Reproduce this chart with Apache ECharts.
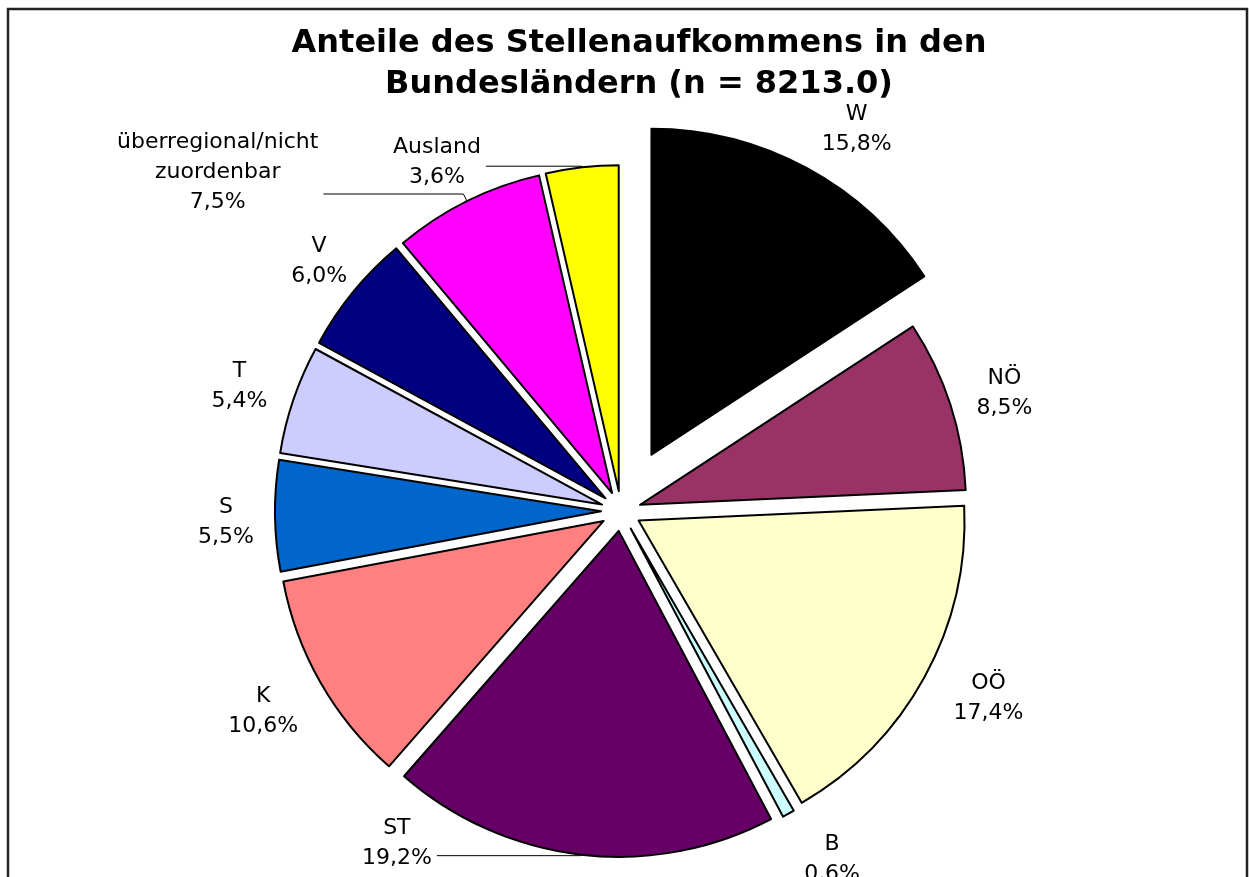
<!DOCTYPE html>
<html><head><meta charset="utf-8">
<script src="https://cdn.jsdelivr.net/npm/echarts@6/dist/echarts.min.js"></script>
<style>html,body{margin:0;padding:0;background:#fff}#c{width:1250px;height:877px}</style>
</head><body><div id="c"></div>
<script>
// ---- data ----
const categories = ['W', 'NÖ', 'OÖ', 'B', 'ST', 'K', 'S', 'T', 'V', 'überregional/nicht\nzuordenbar', 'Ausland'];
const shares = [15.8, 8.5, 17.4, 0.6, 19.2, 10.6, 5.5, 5.4, 6.0, 7.5, 3.6];
const titleLines = ['Anteile des Stellenaufkommens in den', 'Bundesländern (n = 8213.0)'];
const pulledOut = ['W'];
const withLeader = ['ST', 'überregional/nicht\nzuordenbar', 'Ausland'];

// ---- styles ----
const colors = ['#000000', '#993366', '#FFFFCC', '#CCFFFF', '#660066', '#FF8080', '#0066CC', '#CCCCFF', '#000080', '#FF00FF', '#FFFF00'];
const FONT = 'DejaVu Sans';
const leaderStyle = {
  'ST': { length: 1, length2: 144, pad: [0, 0, 24, 0] },
  'überregional/nicht\nzuordenbar': { length: 8, length2: 140, pad: [0, 0, 44, 0] },
  'Ausland': { length: 1, length2: 96, pad: [0, 0, 8, 0] }
};
const labelNudge = { 'W': [44, -27], 'OÖ': [14, -6], 'B': [16, -4], 'S': [8, 6], 'K': [-8, 0], 'NÖ': [0, 6], 'T': [0, 5], 'V': [10, 5] };
const CENTER = [621, 511];
const R = 326;

const fmt = v => v.toFixed(1).replace('.', ',') + '%';
const labelText = (name, v) => name.split('\n').map(l => '{c|' + l + '}').join('\n') + '\n{c|' + fmt(v) + '}';
const rich = { c: { align: 'center', fontFamily: FONT, fontSize: 22, lineHeight: 30, color: '#000' } };
const hidden = { color: 'rgba(0,0,0,0)', borderWidth: 0 };
const visible = i => ({ color: colors[i], borderColor: '#000', borderWidth: 2, borderJoin: 'round' });

const common = {
  type: 'pie', center: CENTER, startAngle: 90, clockwise: true,
  avoidLabelOverlap: false, selectedMode: 'multiple', animation: false,
  labelLayout: { hideOverlap: false, moveOverlap: null },
  emphasis: { disabled: true }, silent: true
};

const seriesPulled = Object.assign({}, common, {
  radius: R, selectedOffset: 64,
  data: categories.map((n, i) => {
    const on = pulledOut.includes(n);
    return { name: n, value: shares[i], selected: on, itemStyle: on ? visible(i) : hidden,
      label: { show: false }, labelLine: { show: false } };
  })
});

const seriesMain = Object.assign({}, common, {
  radius: R, selectedOffset: 20,
  data: categories.map((n, i) => {
    const on = !pulledOut.includes(n);
    const lead = withLeader.includes(n);
    const ls = leaderStyle[n] || {};
    return {
      name: n, value: shares[i], selected: on, itemStyle: on ? visible(i) : hidden,
      label: lead ? { show: true, position: 'outside', distanceToLabelLine: 5, padding: ls.pad,
        formatter: p => labelText(p.name, p.value), rich: rich } : { show: false },
      labelLine: lead ? { show: true, smooth: false, length: ls.length, length2: ls.length2,
        lineStyle: { color: '#000', width: 1 } } : { show: false }
    };
  })
});

const seriesLabels = Object.assign({}, common, {
  radius: [390, 410],
  data: categories.map((n, i) => {
    const lead = withLeader.includes(n);
    return {
      name: n, value: shares[i], itemStyle: hidden,
      label: lead ? { show: false } : { show: true, position: 'inside',
        offset: labelNudge[n] || [0, 0],
        formatter: p => labelText(p.name, p.value), rich: rich },
      labelLine: { show: false }
    };
  })
});

const chart = echarts.init(document.getElementById('c'), null, { renderer: 'canvas' });
chart.setOption({
  backgroundColor: '#fff',
  title: {
    text: titleLines.join('\n'), left: 634, top: 18, textAlign: 'center',
    textStyle: { fontFamily: FONT, fontWeight: 'bold', fontSize: 32, lineHeight: 41, color: '#000' }
  },
  graphic: [{
    type: 'rect', silent: true, z: -1,
    shape: { x: 8, y: 9, width: 1239, height: 900 },
    style: { fill: 'none', stroke: '#222', lineWidth: 2.5 }
  }],
  series: [seriesPulled, seriesMain, seriesLabels]
});
</script></body></html>
